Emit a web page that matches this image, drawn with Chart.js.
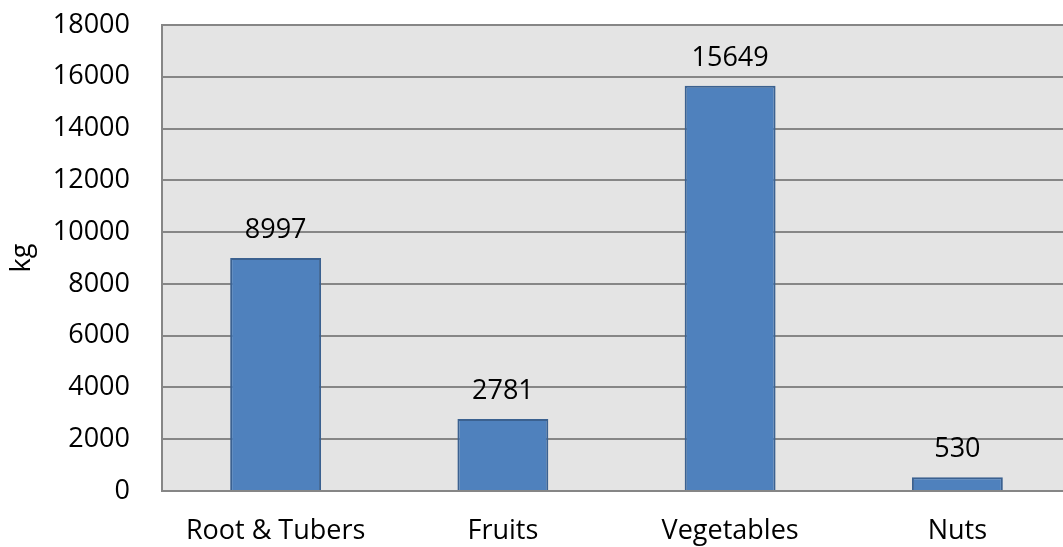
<!DOCTYPE html>
<html>
<head>
<meta charset="utf-8">
<script src="https://cdn.jsdelivr.net/npm/chart.js@4/dist/chart.umd.min.js"></script>
<style>
  html, body { margin: 0; padding: 0; background: #fff; overflow: hidden; }
  #wrap { width: 1071px; height: 547px; position: relative; }
</style>
</head>
<body>
<div id="wrap"><canvas id="mainChart"></canvas></div>
<script>
    const categories = ['Root & Tubers', 'Fruits', 'Vegetables', 'Nuts'];
    const weights = [8997, 2781, 15649, 530];
    const yTitle = 'kg';

    const FONT = "'Open Sans', 'Liberation Sans', sans-serif";

    // grey plot background
    const plotBg = {
        id: 'plotBg',
        beforeDraw(chart) {
            const { ctx, chartArea: a } = chart;
            ctx.save();
            ctx.fillStyle = '#e4e4e4';
            ctx.fillRect(a.left, a.top, a.right - a.left, a.bottom - a.top);
            ctx.restore();
        }
    };

    // value above each bar
    const barValues = {
        id: 'barValues',
        afterDatasetsDraw(chart) {
            const { ctx } = chart;
            const meta = chart.getDatasetMeta(0);
            ctx.save();
            ctx.font = '27px ' + FONT;
            ctx.fillStyle = '#000';
            ctx.textAlign = 'center';
            ctx.textBaseline = 'bottom';
            meta.data.forEach((bar, i) => {
                ctx.fillText(String(weights[i]), bar.x, bar.y - 14);
            });
            ctx.restore();
        }
    };

    const ctx = document.getElementById('mainChart').getContext('2d');
    new Chart(ctx, {
        type: 'bar',
        data: {
            labels: categories,
            datasets: [{
                data: weights,
                backgroundColor: '#4f81bd',
                borderColor: '#3b6190',
                borderWidth: 2,
                barPercentage: 0.4,
                categoryPercentage: 1
            }]
        },
        options: {
            responsive: true, maintainAspectRatio: false,
            animation: false,
            layout: { padding: { top: 25, left: 0, right: 0, bottom: 0 } },
            plugins: { legend: { display: false }, tooltip: { enabled: false } },
            scales: {
                x: {
                    grid: { display: false, drawTicks: false },
                    border: { display: true, color: '#868686', width: 2 },
                    ticks: { color: '#000', padding: 24, font: { family: FONT, size: 27 } },
                    afterFit: s => { s.height = 56; }
                },
                y: {
                    min: 0, max: 18000,
                    ticks: { stepSize: 2000, color: '#000', padding: 32, font: { family: FONT, size: 27 },
                             callback: v => String(v) },
                    grid: { color: '#868686', lineWidth: 2, drawTicks: false },
                    border: { display: true, color: '#868686', width: 2 },
                    title: { display: true, text: yTitle, color: '#000', padding: { top: 6, bottom: 0 },
                             font: { family: FONT, size: 27 } },
                    afterFit: s => { s.width = 162; s.paddingTop = 0; }
                }
            }
        },
        plugins: [plotBg, barValues]
    });
</script>
</body>
</html>
